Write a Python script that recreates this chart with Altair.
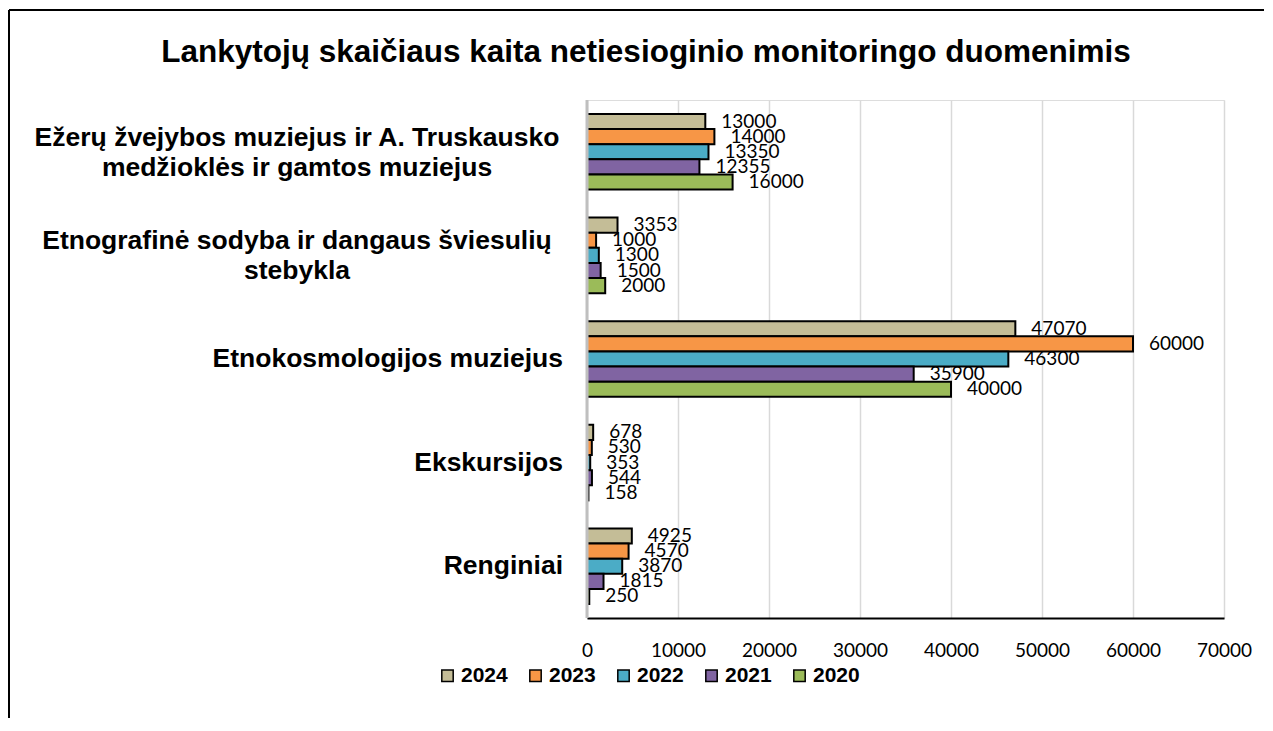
import altair as alt
import pandas as pd

title_text = "Lankytojų skaičiaus kaita netiesioginio monitoringo duomenimis"
categories = [
    "Ežerų žvejybos muziejus ir A. Truskausko medžioklės ir gamtos muziejus",
    "Etnografinė sodyba ir dangaus šviesulių stebykla",
    "Etnokosmologijos muziejus",
    "Ekskursijos",
    "Renginiai",
]
category_labels = [
    "Ežerų žvejybos muziejus ir A. Truskausko|medžioklės ir gamtos muziejus",
    "Etnografinė sodyba ir dangaus šviesulių|stebykla",
    "Etnokosmologijos muziejus",
    "Ekskursijos",
    "Renginiai",
]
years = ["2024", "2023", "2022", "2021", "2020"]
colors = ["#C4BD97", "#F79646", "#4BACC6", "#8064A2", "#9BBB59"]

v2024 = [13000, 3353, 47070, 678, 4925]
v2023 = [14000, 1000, 60000, 530, 4570]
v2022 = [13350, 1300, 46300, 353, 3870]
v2021 = [12355, 1500, 35900, 544, 1815]
v2020 = [16000, 2000, 40000, 158, 250]
tick_values = [0, 10000, 20000, 30000, 40000, 50000, 60000, 70000]

series = {"2024": v2024, "2023": v2023, "2022": v2022, "2021": v2021, "2020": v2020}
rows = []
for y in years:
    for c, v in zip(categories, series[y]):
        rows.append({"cat": c, "year": y, "value": v})
df = pd.DataFrame(rows)

lab_df = pd.DataFrame({
    "cat": categories,
    "label": category_labels,
    "multi": ["|" in s for s in category_labels],
})

W, H = 637, 518

yscale = alt.Scale(domain=categories, paddingInner=0.27, paddingOuter=0.135)
xscale = alt.Scale(domain=[0, 70000], nice=False)
color = alt.Color(
    "year:N",
    scale=alt.Scale(domain=years, range=colors),
    legend=alt.Legend(
        title=None,
        orient="none",
        legendX=-150,
        legendY=565,
        direction="horizontal",
        symbolType="square",
        symbolSize=130,
        symbolStrokeColor="black",
        symbolStrokeWidth=1.5,
        labelFont="Liberation Sans",
        labelFontWeight="bold",
        labelFontSize=21,
        labelColor="black",
        columnPadding=17,
        labelOffset=3,
    ),
)

base = alt.Chart(df)

bars = base.mark_bar(stroke="black", strokeWidth=2).encode(
    x=alt.X(
        "value:Q",
        scale=xscale,
        stack=None,
        axis=alt.Axis(
            values=tick_values,
            format="d",
            title=None,
            ticks=False,
            domain=True,
            domainColor="black",
            domainWidth=2,
            grid=True,
            gridColor="#D9D9D9",
            gridWidth=1.5,
            labelFont="Lato",
            labelFontSize=19,
            labelColor="black",
            labelPadding=23,
            labelFlush=False,
            labelOverlap=False,
        ),
    ),
    y=alt.Y("cat:N", scale=yscale, axis=None, sort=categories),
    yOffset=alt.YOffset("year:N", sort=years, scale=alt.Scale(paddingInner=0, paddingOuter=0)),
    color=color,
)

labels = base.mark_text(align="left", baseline="middle", dx=16, font="Lato", fontSize=19, color="black").encode(
    x=alt.X("value:Q", scale=xscale, stack=None),
    y=alt.Y("cat:N", scale=yscale, sort=categories),
    yOffset=alt.YOffset("year:N", sort=years),
    text=alt.Text("value:Q", format="d"),
)

cat_multi = alt.Chart(lab_df).transform_filter("datum.multi").mark_text(
    align="center", baseline="middle", lineBreak="|", font="Liberation Sans",
    fontWeight="bold", fontSize=26.5, lineHeight=30, dy=-14, color="black",
).encode(
    x=alt.value(-290),
    y=alt.Y("cat:N", scale=yscale, sort=categories),
    text="label:N",
)

cat_single = alt.Chart(lab_df).transform_filter("!datum.multi").mark_text(
    align="right", baseline="middle", font="Liberation Sans",
    fontWeight="bold", fontSize=26.5, color="black",
).encode(
    x=alt.value(-24),
    y=alt.Y("cat:N", scale=yscale, sort=categories),
    text="label:N",
)

one = pd.DataFrame({"t": [title_text]})
title = alt.Chart(one).mark_text(
    align="center", baseline="middle", font="Liberation Sans", fontWeight="bold",
    fontSize=31.5, color="black",
).encode(x=alt.value(59), y=alt.value(-47), text="t:N")

left_axis = alt.Chart(one).mark_rule(color="#BFBFBF", strokeWidth=3).encode(
    x=alt.value(0), y=alt.value(0), y2=alt.value(H)
)
frame_top = alt.Chart(one).mark_rule(color="black", strokeWidth=2).encode(
    x=alt.value(-578), x2=alt.value(W + 60), y=alt.value(-90)
)
frame_left = alt.Chart(one).mark_rule(color="black", strokeWidth=2).encode(
    x=alt.value(-578), y=alt.value(-90), y2=alt.value(H + 120)
)

chart = alt.layer(bars, labels, cat_multi, cat_single, title, left_axis, frame_top, frame_left).properties(
    width=W,
    height=H,
    autosize=alt.AutoSizeParams(type="none"),
    padding={"left": 579, "top": 92, "right": 40, "bottom": 100},
).configure_view(
    fill="#F2F2F2", stroke="#262626", strokeWidth=1.5
).configure(background="white")

chart.save("out.html", embed_options={"renderer": "svg", "actions": False})
